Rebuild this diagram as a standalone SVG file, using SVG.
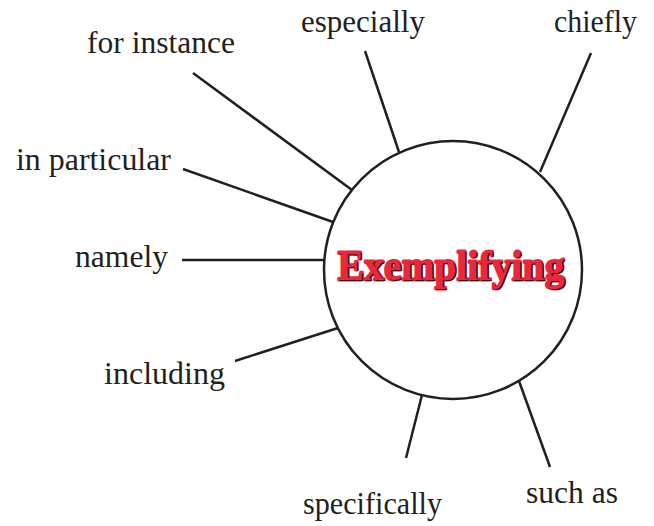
<svg xmlns="http://www.w3.org/2000/svg" width="654" height="526" viewBox="0 0 654 526">
<style>
.lbl{font-family:"Liberation Serif","Times New Roman",serif;font-size:31px;fill:#231f20}
.con{stroke:#231f20;stroke-width:2.5;fill:none;stroke-linecap:butt}
.ttl{font-family:"Liberation Serif","Times New Roman",serif;font-size:42px;font-weight:bold}
</style>
<rect width="654" height="526" fill="#ffffff"/>
<g id="connectors">
<line class="con" x1="193" y1="73" x2="352" y2="190"/>
<line class="con" x1="365" y1="51" x2="399" y2="152"/>
<line class="con" x1="591" y1="53" x2="540" y2="172"/>
<line class="con" x1="183" y1="169" x2="333" y2="222"/>
<line class="con" x1="182" y1="260" x2="324" y2="260"/>
<line class="con" x1="235" y1="361" x2="338" y2="328"/>
<line class="con" x1="406" y1="458" x2="422" y2="395"/>
<line class="con" x1="550" y1="467" x2="519" y2="381"/>
</g>
<g id="center">
<circle cx="453" cy="270" r="129" fill="#ffffff" stroke="#231f20" stroke-width="2.5"/>
<text class="ttl" x="338" y="280" textLength="227" lengthAdjust="spacingAndGlyphs" fill="#e8283c" stroke="#e8283c" stroke-width="3" stroke-linejoin="round">Exemplifying</text>
<text class="ttl" x="339" y="281" textLength="227" lengthAdjust="spacingAndGlyphs" fill="#3a1418">Exemplifying</text>
<text class="ttl" x="337.5" y="279.5" textLength="227" lengthAdjust="spacingAndGlyphs" fill="#e8283c">Exemplifying</text>
</g>
<g id="n-for-instance"><text class="lbl" x="87" y="53" textLength="148" lengthAdjust="spacingAndGlyphs">for instance</text></g>
<g id="n-especially"><text class="lbl" x="301" y="32" textLength="124" lengthAdjust="spacingAndGlyphs">especially</text></g>
<g id="n-chiefly"><text class="lbl" x="554" y="32" textLength="83" lengthAdjust="spacingAndGlyphs">chiefly</text></g>
<g id="n-in-particular"><text class="lbl" x="16" y="170" textLength="155" lengthAdjust="spacingAndGlyphs">in particular</text></g>
<g id="n-namely"><text class="lbl" x="75" y="267" textLength="93" lengthAdjust="spacingAndGlyphs">namely</text></g>
<g id="n-including"><text class="lbl" x="104" y="384" textLength="121" lengthAdjust="spacingAndGlyphs">including</text></g>
<g id="n-specifically"><text class="lbl" x="303" y="514" textLength="139" lengthAdjust="spacingAndGlyphs">specifically</text></g>
<g id="n-such-as"><text class="lbl" x="526" y="503" textLength="92" lengthAdjust="spacingAndGlyphs">such as</text></g>
</svg>
